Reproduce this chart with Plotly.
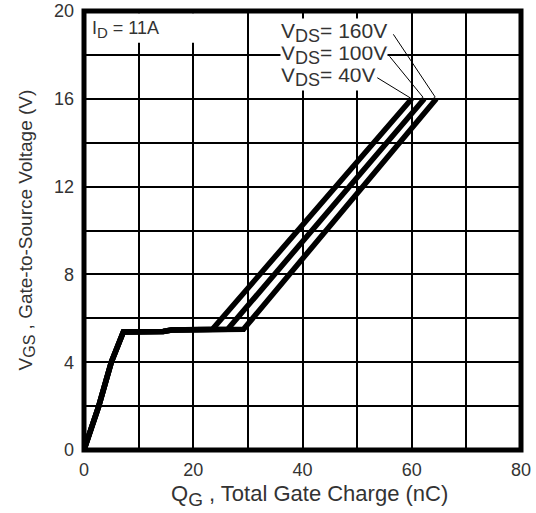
import plotly.graph_objects as go

# Gate charge curves (Qg in nC, Vgs in V) for three drain voltages
q_40 = [0, 2.7, 5.0, 7.2, 14.5, 16, 23.5, 60.0]
v_40 = [0, 2.0, 4.0, 5.38, 5.4, 5.47, 5.5, 16.0]
q_100 = [0, 2.7, 5.0, 7.2, 14.5, 16, 26.3, 62.3]
v_100 = [0, 2.0, 4.0, 5.38, 5.4, 5.47, 5.5, 16.0]
q_160 = [0, 2.7, 5.0, 7.2, 14.5, 16, 29.2, 64.5]
v_160 = [0, 2.0, 4.0, 5.38, 5.4, 5.47, 5.5, 16.0]

series = [("40", q_40, v_40), ("100", q_100, v_100), ("160", q_160, v_160)]
label_y = {"160": 19.0, "100": 18.0, "40": 17.0}
leader_offsets = {"160": (-44, -66), "100": (-36, -44), "40": (-36, -22)}

x_ticks = [0, 20, 40, 60, 80]
y_ticks = [0, 4, 8, 12, 16, 20]

font_family = "Liberation Sans, Arial, sans-serif"
txt_color = "#333333"


def sub(s, size):
    return f"<sub><span style='font-size:{size}px'>{s}</span></sub>"


fig = go.Figure()
for name, q, v in series:
    fig.add_trace(go.Scatter(x=q, y=v, mode="lines",
                             line=dict(color="black", width=5.5),
                             name=name, showlegend=False))

annotations = []
for name, q, v in series:
    annotations.append(dict(x=35.9, y=label_y[name], xref="x", yref="y",
                            xanchor="left", yanchor="middle",
                            text=f"V{sub('DS', 18)}= {name}V", showarrow=False,
                            font=dict(size=21, color=txt_color, family=font_family),
                            bgcolor="white", borderpad=0))
for name, q, v in series:
    ax, ay = leader_offsets[name]
    annotations.append(dict(x=q[-1], y=v[-1], xref="x", yref="y",
                            text="", showarrow=True, arrowhead=0,
                            arrowwidth=1, arrowcolor="black",
                            ax=ax, ay=ay, standoff=2))
annotations.append(dict(x=0, y=20, xref="x", yref="y",
                        xanchor="left", yanchor="top",
                        text=f"I{sub('D', 15)} = 11A", showarrow=False,
                        xshift=6, yshift=-5,
                        font=dict(size=18, color=txt_color, family=font_family)))
# axis titles
annotations.append(dict(x=0.515, y=0, xref="paper", yref="paper",
                        xanchor="center", yanchor="middle", yshift=-45,
                        text=f"Q{sub('G', 19)} , Total Gate Charge (nC)", showarrow=False,
                        font=dict(size=22, color=txt_color, family=font_family)))
annotations.append(dict(x=0, y=0.50, xref="paper", yref="paper",
                        xanchor="center", yanchor="middle", xshift=-58,
                        textangle=-90,
                        text=f"V{sub('GS', 16)} , Gate-to-Source Voltage (V)", showarrow=False,
                        font=dict(size=19, color=txt_color, family=font_family)))

fig.update_layout(
    width=536, height=513,
    margin=dict(l=84, r=15, t=11, b=63),
    plot_bgcolor="white", paper_bgcolor="white",
    font=dict(family=font_family, color=txt_color),
    annotations=annotations,
    shapes=[
        dict(type="rect", xref="x", yref="y", x0=0.3, x1=25, y0=18.55, y1=19.9,
             fillcolor="white", line=dict(width=0), layer="between"),
        dict(type="rect", xref="paper", yref="paper", x0=0, x1=1, y0=0, y1=1,
             line=dict(color="black", width=5), layer="above"),
    ],
)
fig.update_xaxes(range=[0, 80], tickvals=list(range(0, 81, 10)),
                 ticktext=[str(t) if t in x_ticks else "" for t in range(0, 81, 10)],
                 showgrid=True, gridcolor="black", gridwidth=2,
                 showline=False, ticks="", zeroline=False, automargin=False,
                 ticklabelstandoff=7,
                 tickfont=dict(size=18, color=txt_color))
fig.update_yaxes(range=[0, 20], tickvals=list(range(0, 21, 2)),
                 ticktext=[str(t) if t in y_ticks else "" for t in range(0, 21, 2)],
                 showgrid=True, gridcolor="black", gridwidth=2,
                 showline=False, ticks="", zeroline=False, automargin=False,
                 ticklabelstandoff=9,
                 tickfont=dict(size=18, color=txt_color))

fig.write_html("out.html", config={"displayModeBar": False},
               post_script="document.body.style.margin='0px';"
                           "document.body.style.overflow='hidden';")
